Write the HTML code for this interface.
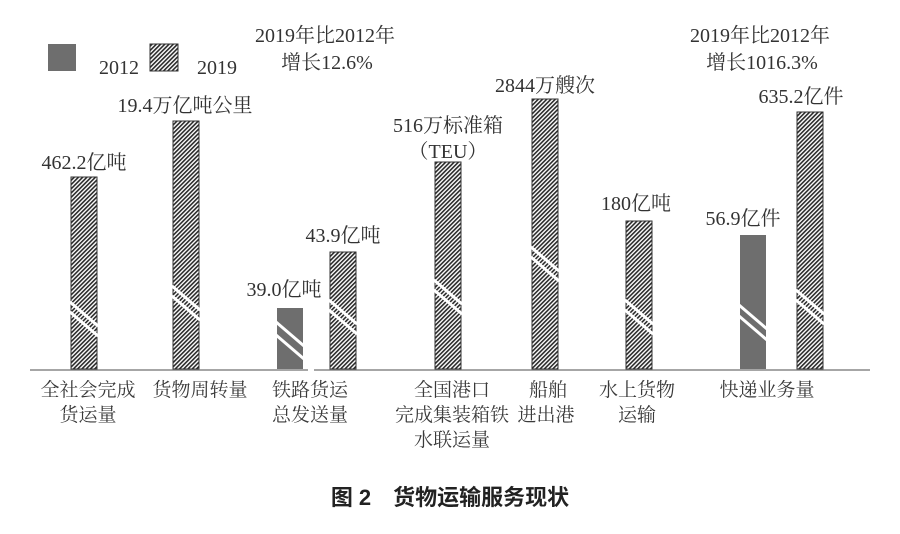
<!DOCTYPE html>
<html><head><meta charset="utf-8"><style>
html,body{margin:0;padding:0;background:#fff;}
svg{display:block}
text{font-family:"Liberation Serif","Noto Serif CJK SC",serif;fill:#333;}
.l{font-size:19px;fill:#3a3a3a;}
</style></head><body>
<svg width="900" height="534" viewBox="0 0 900 534" xmlns="http://www.w3.org/2000/svg">
<defs>
<pattern id="h" width="3" height="3" patternUnits="userSpaceOnUse" patternTransform="rotate(45)">
<rect width="3" height="3" fill="#fff"/>
<rect width="1.6" height="3" fill="#2a2a2a"/>
</pattern>
</defs>
<rect width="900" height="534" fill="#fff"/>
<rect x="48" y="44" width="28" height="27" fill="#6e6e6e"/>
<text x="99" y="74" font-size="20">2012</text>
<rect x="150" y="44" width="28" height="27" fill="url(#h)" stroke="#333" stroke-width="1"/>
<text x="197" y="74" font-size="20">2019</text>
<text x="325" y="42" font-size="20" text-anchor="middle">2019年比2012年</text>
<text x="327" y="69" font-size="20" text-anchor="middle">增长12.6%</text>
<text x="760" y="42" font-size="20" text-anchor="middle">2019年比2012年</text>
<text x="762" y="69" font-size="20" text-anchor="middle">增长1016.3%</text>
<line x1="30" y1="370" x2="308" y2="370" stroke="#888" stroke-width="1.5"/>
<line x1="314" y1="370" x2="870" y2="370" stroke="#888" stroke-width="1.5"/>
<g stroke="#333" stroke-width="1">
<rect x="71" y="177" width="26" height="192" fill="url(#h)"/>
<rect x="173" y="121" width="26" height="248" fill="url(#h)"/>
<rect x="330" y="252" width="26" height="117" fill="url(#h)"/>
<rect x="435" y="162" width="26" height="207" fill="url(#h)"/>
<rect x="532" y="99" width="26" height="270" fill="url(#h)"/>
<rect x="626" y="221" width="26" height="148" fill="url(#h)"/>
<rect x="797" y="112" width="26" height="257" fill="url(#h)"/>
</g>
<rect x="277" y="308" width="26" height="61" fill="#6e6e6e"/>
<rect x="740" y="235" width="26" height="134" fill="#6e6e6e"/>
<g stroke="#fff" stroke-width="3">
<path d="M70 302 L98 326 M70 312 L98 336"/>
<path d="M172 286 L200 310 M172 296 L200 320"/>
<path d="M276 322 L304 346 M276 335 L304 359"/>
<path d="M329 300 L357 324 M329 310 L357 334"/>
<path d="M434 280 L462 304 M434 290 L462 314"/>
<path d="M531 247 L559 271 M531 257 L559 281"/>
<path d="M625 300 L653 324 M625 310 L653 334"/>
<path d="M739 305 L767 329 M739 316 L767 340"/>
<path d="M796 290 L824 314 M796 300 L824 324"/>
</g>
<g font-size="20" text-anchor="middle">
<text x="84" y="169">462.2亿吨</text>
<text x="185" y="112">19.4万亿吨公里</text>
<text x="284" y="296">39.0亿吨</text>
<text x="343" y="242">43.9亿吨</text>
<text x="448" y="132">516万标准箱</text>
<text x="448" y="158">（TEU）</text>
<text x="545" y="92">2844万艘次</text>
<text x="636" y="210">180亿吨</text>
<text x="743" y="225">56.9亿件</text>
<text x="801" y="103">635.2亿件</text>
</g>
<g text-anchor="middle">
<text class="l" x="88" y="396">全社会完成</text>
<text class="l" x="88" y="421">货运量</text>
<text class="l" x="200" y="396">货物周转量</text>
<text class="l" x="310" y="396">铁路货运</text>
<text class="l" x="310" y="421">总发送量</text>
<text class="l" x="452" y="396">全国港口</text>
<text class="l" x="452" y="421">完成集装箱铁</text>
<text class="l" x="452" y="446">水联运量</text>
<text class="l" x="548" y="396">船舶</text>
<text class="l" x="546" y="421">进出港</text>
<text class="l" x="637" y="396">水上货物</text>
<text class="l" x="637" y="421">运输</text>
<text class="l" x="767" y="396">快递业务量</text>
</g>
<text x="450" y="505" font-size="22" font-weight="bold" text-anchor="middle" style="font-family:'Liberation Sans','Noto Sans CJK SC',sans-serif;fill:#222">图 2　货物运输服务现状</text>
</svg>
</body></html>
